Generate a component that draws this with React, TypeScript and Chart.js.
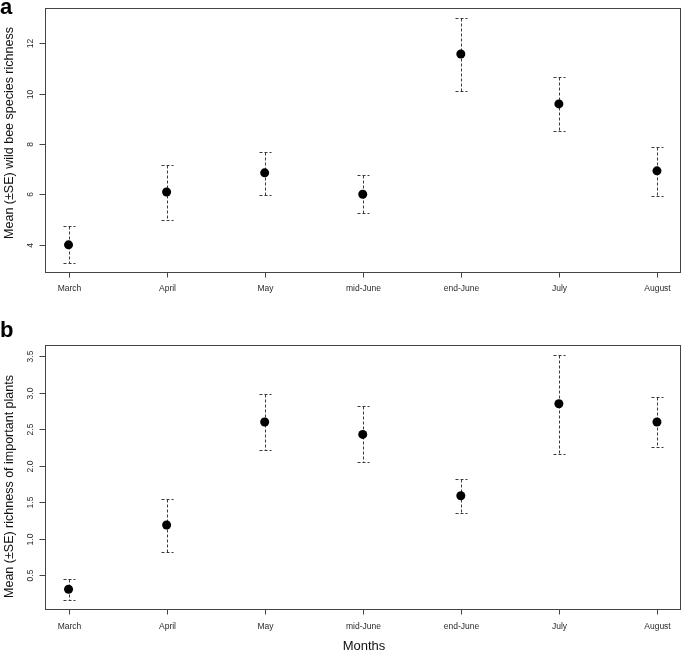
import React, { useEffect, useRef } from "react";
import { Chart, registerables } from "chart.js";

Chart.register(...registerables);

const months = ["March", "April", "May", "mid-June", "end-June", "July", "August"];

const beeMean = [4.0, 6.1, 6.86, 6.01, 11.58, 9.6, 6.94];
const beeUpper = [4.73, 7.19, 7.69, 6.77, 13.02, 10.65, 7.9];
const beeLower = [3.27, 4.98, 5.99, 5.25, 10.13, 8.54, 5.95];
const beeTicks = [4, 6, 8, 10, 12];
const beeTickLabels = ["4", "6", "8", "10", "12"];

const plantMean = [0.31, 1.19, 2.6, 2.43, 1.59, 2.85, 2.6];
const plantUpper = [0.455, 1.54, 2.98, 2.82, 1.82, 3.52, 2.94];
const plantLower = [0.16, 0.82, 2.21, 2.05, 1.36, 2.16, 2.26];
const plantTicks = [0.5, 1.0, 1.5, 2.0, 2.5, 3.0, 3.5];
const plantTickLabels = ["0.5", "1.0", "1.5", "2.0", "2.5", "3.0", "3.5"];

const FONT = "'Liberation Sans', Arial, Helvetica, sans-serif";

type PanelCfg = {
  height: number;
  padding: { top: number; bottom: number; left: number; right: number };
  letter: string;
  letterY: number;
  yTitle: string;
  yTitleCenter: number;
  xLabelY: number;
  monthsY: number | null;
  mean: number[];
  upper: number[];
  lower: number[];
  ticks: number[];
  tickLabels: string[];
};

function makePlugin(cfg: PanelCfg) {
  return {
    id: "rstyle",
    beforeDatasetsDraw(chart: any) {
      const ctx = chart.ctx;
      const xs = chart.scales.x;
      const ys = chart.scales.y;
      ctx.save();
      ctx.strokeStyle = "#3a3a3a";
      ctx.lineWidth = 1;
      ctx.setLineDash([3, 2]);
      for (let i = 0; i < cfg.mean.length; i++) {
        const x = Math.round(xs.getPixelForValue(i)) + 0.5;
        const yu = Math.round(ys.getPixelForValue(cfg.upper[i])) + 0.5;
        const yl = Math.round(ys.getPixelForValue(cfg.lower[i])) + 0.5;
        ctx.beginPath();
        ctx.moveTo(x, yu);
        ctx.lineTo(x, yl);
        ctx.moveTo(x - 6, yu);
        ctx.lineTo(x + 6, yu);
        ctx.moveTo(x - 6, yl);
        ctx.lineTo(x + 6, yl);
        ctx.stroke();
      }
      ctx.restore();
    },
    afterDraw(chart: any) {
      const ctx = chart.ctx;
      const xs = chart.scales.x;
      const ys = chart.scales.y;
      const a = chart.chartArea;
      ctx.save();
      // box
      ctx.strokeStyle = "#444";
      ctx.lineWidth = 1;
      ctx.setLineDash([]);
      const L = Math.round(a.left) + 0.5;
      const T = Math.round(a.top) + 0.5;
      const R = Math.round(a.right) - 0.5;
      const B = Math.round(a.bottom) - 0.5;
      ctx.strokeRect(L, T, R - L, B - T);
      // x ticks
      ctx.fillStyle = "#2a2a2a";
      ctx.font = `8.5px ${FONT}`;
      ctx.textAlign = "center";
      ctx.textBaseline = "middle";
      for (let i = 0; i < months.length; i++) {
        const x = Math.round(xs.getPixelForValue(i)) + 0.5;
        ctx.beginPath();
        ctx.moveTo(x, B);
        ctx.lineTo(x, B + 5);
        ctx.stroke();
        ctx.fillText(months[i], x, cfg.xLabelY);
      }
      // y ticks
      for (let i = 0; i < cfg.ticks.length; i++) {
        const y = Math.round(ys.getPixelForValue(cfg.ticks[i])) + 0.5;
        ctx.beginPath();
        ctx.moveTo(L, y);
        ctx.lineTo(L - 6, y);
        ctx.stroke();
        ctx.save();
        ctx.translate(31, y);
        ctx.rotate(-Math.PI / 2);
        ctx.fillText(cfg.tickLabels[i], 0, 0);
        ctx.restore();
      }
      // y title
      ctx.fillStyle = "#111";
      ctx.font = `12.5px ${FONT}`;
      ctx.textBaseline = "alphabetic";
      ctx.save();
      ctx.translate(13, cfg.yTitleCenter);
      ctx.rotate(-Math.PI / 2);
      ctx.fillText(cfg.yTitle, 0, 0);
      ctx.restore();
      // letter
      ctx.fillStyle = "#000";
      ctx.font = `bold 22px ${FONT}`;
      ctx.textAlign = "left";
      ctx.fillText(cfg.letter, 0, cfg.letterY);
      // x title
      if (cfg.monthsY !== null) {
        ctx.font = `13px ${FONT}`;
        ctx.textAlign = "center";
        ctx.textBaseline = "middle";
        ctx.fillStyle = "#111";
        ctx.fillText("Months", 364, cfg.monthsY);
      }
      ctx.restore();
    },
  };
}

function Panel({ cfg }: { cfg: PanelCfg }) {
  const ref = useRef<HTMLCanvasElement | null>(null);
  useEffect(() => {
    if (!ref.current) return;
    const lo = Math.min(...cfg.lower);
    const hi = Math.max(...cfg.upper);
    const ext = (hi - lo) * 0.04;
    const n = months.length - 1;
    const chart = new Chart(ref.current, {
      type: "scatter",
      data: {
        datasets: [
          {
            data: cfg.mean.map((v, i) => ({ x: i, y: v })),
            pointRadius: 4.5,
            pointBackgroundColor: "#000",
            pointBorderWidth: 0,
            pointHoverRadius: 4.5,
          },
        ],
      },
      options: {
        animation: false,
        responsive: false,
        devicePixelRatio: 1,
        layout: { padding: cfg.padding },
        plugins: { legend: { display: false }, tooltip: { enabled: false } },
        events: [],
        scales: {
          x: { type: "linear", display: false, min: -n * 0.04, max: n * 1.04 },
          y: { type: "linear", display: false, min: lo - ext, max: hi + ext },
        },
      },
      plugins: [makePlugin(cfg)],
    } as any);
    return () => chart.destroy();
  }, [cfg]);
  return <canvas ref={ref} width={685} height={cfg.height} style={{ display: "block" }} />;
}

const panelA: PanelCfg = {
  height: 300,
  padding: { top: 8, bottom: 27, left: 45, right: 2 },
  letter: "a",
  letterY: 14,
  yTitle: "Mean (\u00b1SE) wild bee species richness",
  yTitleCenter: 133,
  xLabelY: 289,
  monthsY: null,
  mean: beeMean,
  upper: beeUpper,
  lower: beeLower,
  ticks: beeTicks,
  tickLabels: beeTickLabels,
};

const panelB: PanelCfg = {
  height: 353,
  padding: { top: 45, bottom: 43, left: 45, right: 2 },
  letter: "b",
  letterY: 37,
  yTitle: "Mean (\u00b1SE) richness of important plants",
  yTitleCenter: 186.5,
  xLabelY: 326.7,
  monthsY: 346.7,
  mean: plantMean,
  upper: plantUpper,
  lower: plantLower,
  ticks: plantTicks,
  tickLabels: plantTickLabels,
};

export default function App() {
  return (
    <div style={{ position: "absolute", left: 0, top: 0, width: 685, height: 653, background: "#fff" }}>
      <Panel cfg={panelA} />
      <Panel cfg={panelB} />
    </div>
  );
}
